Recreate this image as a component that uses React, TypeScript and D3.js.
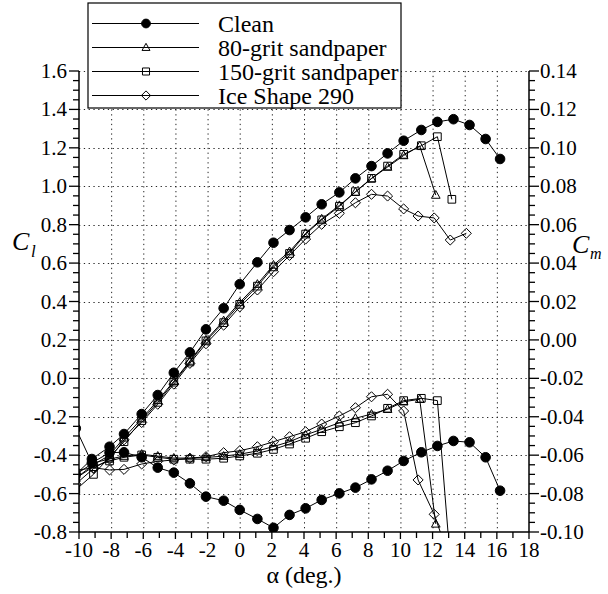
import React from "react";
import * as d3 from "d3";

// ---------------- data ----------------
const cleanAlpha = [-10.2, -9.2, -8.1, -7.2, -6.1, -5.1, -4.1, -3.1, -2.1, -1.0, 0.0, 1.1, 2.1, 3.1, 4.1, 5.1, 6.2, 7.2, 8.2, 9.2, 10.2, 11.3, 12.3, 13.3, 14.3, 15.3, 16.2];
const cleanCl = [-0.50, -0.42, -0.356, -0.29, -0.186, -0.087, 0.029, 0.135, 0.255, 0.365, 0.49, 0.604, 0.706, 0.772, 0.838, 0.906, 0.968, 1.041, 1.105, 1.171, 1.237, 1.293, 1.335, 1.349, 1.319, 1.246, 1.142];
const cleanCm = [-0.046, -0.064, -0.0587, -0.0585, -0.0611, -0.0665, -0.0691, -0.0747, -0.0816, -0.0837, -0.0885, -0.0932, -0.0978, -0.0911, -0.0877, -0.0833, -0.0799, -0.0769, -0.0726, -0.0681, -0.063, -0.0585, -0.0552, -0.0526, -0.0533, -0.0611, -0.0785];

const grit80Alpha = [-10.2, -9.1, -8.1, -7.2, -6.1, -5.1, -4.1, -3.1, -2.1, -1.0, 0.0, 1.1, 2.1, 3.1, 4.1, 5.1, 6.2, 7.2, 8.2, 9.2, 10.2, 11.2, 12.2];
const grit80Cl = [-0.52, -0.45, -0.40, -0.31, -0.21, -0.115, -0.015, 0.09, 0.2, 0.3, 0.395, 0.49, 0.59, 0.66, 0.755, 0.83, 0.9, 0.97, 1.04, 1.10, 1.16, 1.21, 0.954];
const grit80Cm = [-0.07, -0.064, -0.062, -0.0605, -0.0595, -0.0605, -0.0615, -0.0615, -0.0612, -0.0605, -0.0595, -0.0578, -0.0555, -0.053, -0.0495, -0.0465, -0.0431, -0.0408, -0.0386, -0.0361, -0.0322, -0.0309, -0.0958];

const grit150Alpha = [-10.2, -9.1, -8.1, -7.2, -6.1, -5.1, -4.1, -3.1, -2.1, -1.0, 0.0, 1.1, 2.1, 3.1, 4.1, 5.1, 6.2, 7.2, 8.2, 9.2, 10.2, 11.3, 12.3, 13.2];
const grit150Cl = [-0.58, -0.50, -0.41, -0.33, -0.22, -0.125, -0.02, 0.085, 0.195, 0.29, 0.385, 0.48, 0.58, 0.65, 0.751, 0.825, 0.895, 0.972, 1.041, 1.105, 1.166, 1.211, 1.258, 0.932];
const grit150Cm = [-0.072, -0.066, -0.063, -0.0611, -0.0599, -0.0611, -0.0621, -0.0621, -0.0621, -0.0616, -0.0604, -0.059, -0.057, -0.0542, -0.0512, -0.0478, -0.0452, -0.0431, -0.0396, -0.0356, -0.0316, -0.0304, -0.0316, -0.125];

const iceAlpha = [-10.2, -9.1, -8.1, -7.2, -6.1, -5.1, -4.1, -3.1, -2.1, -1.0, 0.0, 1.1, 2.1, 3.1, 4.1, 5.1, 6.2, 7.2, 8.2, 9.2, 10.2, 11.1, 12.1, 13.1, 14.1];
const iceCl = [-0.55, -0.47, -0.42, -0.32, -0.23, -0.135, -0.03, 0.078, 0.18, 0.277, 0.372, 0.46, 0.555, 0.64, 0.725, 0.802, 0.859, 0.914, 0.958, 0.949, 0.882, 0.845, 0.835, 0.72, 0.755];
const iceCm = [-0.068, -0.0665, -0.0677, -0.0674, -0.0646, -0.0632, -0.0625, -0.0616, -0.0608, -0.0587, -0.0577, -0.0556, -0.053, -0.0504, -0.0478, -0.0438, -0.0396, -0.0353, -0.0296, -0.0283, -0.037, -0.0729, -0.0908, -0.115, -0.12];

const seriesNames = ["Clean", "80-grit sandpaper", "150-grit sandpaper", "Ice Shape 290"];
const seriesMarkers = ["circle", "triangle", "square", "diamond"];

const xTickLabels = ["-10", "-8", "-6", "-4", "-2", "0", "2", "4", "6", "8", "10", "12", "14", "16", "18"];
const clTickLabels = ["-0.8", "-0.6", "-0.4", "-0.2", "0.0", "0.2", "0.4", "0.6", "0.8", "1.0", "1.2", "1.4", "1.6"];
const cmTickLabels = ["-0.10", "-0.08", "-0.06", "-0.04", "-0.02", "0.00", "0.02", "0.04", "0.06", "0.08", "0.10", "0.12", "0.14"];

// ---------------- layout ----------------
const W = 608;
const H = 594;
const L = 79, R = 529, T = 71, B = 532;
const FONT = "'Liberation Serif', 'DejaVu Serif', 'Noto Serif', 'FreeSerif', 'Nimbus Roman', 'Liberation Sans', sans-serif";
const TXT = { fontFamily: FONT } as React.CSSProperties;

const x = d3.scaleLinear().domain([-10, 18]).range([L, R]);
const yCl = d3.scaleLinear().domain([-0.8, 1.6]).range([B, T]);
const yCm = d3.scaleLinear().domain([-0.10, 0.14]).range([B, T]);

function markerPath(kind: string, s: number): string {
  if (kind === "circle") {
    const r = s;
    return `M${-r},0A${r},${r} 0 1,0 ${r},0A${r},${r} 0 1,0 ${-r},0Z`;
  }
  if (kind === "square") {
    const h = s * 0.8;
    return `M${-h},${-h}H${h}V${h}H${-h}Z`;
  }
  if (kind === "diamond") {
    const h = s * 1.05;
    return `M0,${-h}L${h},0L0,${h}L${-h},0Z`;
  }
  const h = s * 0.95;
  return `M0,${-h}L${h * 0.95},${h * 0.7}L${-h * 0.95},${h * 0.7}Z`;
}

function Marker({ kind, cx, cy, s }: { kind: string; cx: number; cy: number; s: number }) {
  const filled = kind === "circle";
  return (
    <path
      d={markerPath(kind, s)}
      transform={`translate(${cx},${cy})`}
      fill={filled ? "#000" : "none"}
      stroke="#000"
      strokeWidth={1}
    />
  );
}

export default function App() {
  const series = [
    { alpha: cleanAlpha, cl: cleanCl, cm: cleanCm },
    { alpha: grit80Alpha, cl: grit80Cl, cm: grit80Cm },
    { alpha: grit150Alpha, cl: grit150Cl, cm: grit150Cm },
    { alpha: iceAlpha, cl: iceCl, cm: iceCm },
  ];

  const lineCl = (a: number[], v: number[]) =>
    d3.line<number>().x((_, i) => x(a[i])).y((d) => yCl(d))(v) || "";
  const lineCm = (a: number[], v: number[]) =>
    d3.line<number>().x((_, i) => x(a[i])).y((d) => yCm(d))(v) || "";

  const xTicks = d3.range(-10, 18.001, 1);
  const clTicks = d3.range(0, 49, 1).map((i) => -0.8 + i * 0.05);
  const cmTicks = d3.range(0, 49, 1).map((i) => -0.1 + i * 0.005);
  const xGrid = d3.range(-8, 16.001, 2);
  const yGrid = d3.range(1, 13, 1).map((i) => -0.8 + i * 0.2);

  const legendRowsY = [23.5, 47.5, 71.5, 95.5];

  return (
    <svg
      width={W}
      height={H}
      style={{ position: "absolute", left: 0, top: 0, background: "#fff", fontFamily: FONT }}
    >
      <defs>
        <clipPath id="plotClip">
          <rect x={L} y={T - 1} width={R - L} height={B - T + 1} />
        </clipPath>
      </defs>
      <rect x={0} y={0} width={W} height={H} fill="#fff" />

      {/* grid */}
      <g stroke="#000" strokeWidth={1} strokeDasharray="1.3,3.5" opacity={0.85}>
        {xGrid.map((v) => (
          <line key={"gx" + v} x1={x(v) + 0.5} x2={x(v) + 0.5} y1={T} y2={B} />
        ))}
        {yGrid.map((v, i) => (
          <line key={"gy" + i} x1={L} x2={R} y1={Math.round(yCl(v)) + 0.5} y2={Math.round(yCl(v)) + 0.5} />
        ))}
      </g>

      {/* series */}
      <g clipPath="url(#plotClip)">
        {series.map((s, k) => (
          <g key={"s" + k}>
            <path d={lineCl(s.alpha, s.cl)} fill="none" stroke="#000" strokeWidth={1} />
            <path d={lineCm(s.alpha, s.cm)} fill="none" stroke="#000" strokeWidth={1} />
          </g>
        ))}
        {series.map((s, k) => (
          <g key={"m" + k}>
            {s.alpha.map((a, i) => (
              <Marker key={"mc" + i} kind={seriesMarkers[k]} cx={x(a)} cy={yCl(s.cl[i])} s={4.8} />
            ))}
            {s.alpha.map((a, i) => (
              <Marker key={"mm" + i} kind={seriesMarkers[k]} cx={x(a)} cy={yCm(s.cm[i])} s={4.8} />
            ))}
          </g>
        ))}
      </g>

      {/* axes lines */}
      <g stroke="#000" strokeWidth={1.5} fill="none">
        <line x1={L} x2={L} y1={T} y2={B} />
        <line x1={R} x2={R} y1={T} y2={B} />
        <line x1={L} x2={R} y1={B} y2={B} />
      </g>

      {/* ticks */}
      <g stroke="#000" strokeWidth={1.3}>
        {xTicks.map((v, i) => (
          <line key={"xt" + i} x1={x(v)} x2={x(v)} y1={B} y2={B + (i % 2 === 0 ? 7 : 6)} />
        ))}
        {clTicks.map((v, i) => (
          <line key={"lt" + i} x1={L - (i % 4 === 0 ? 10 : 6)} x2={L} y1={yCl(v)} y2={yCl(v)} />
        ))}
        {cmTicks.map((v, i) => (
          <line key={"rt" + i} x1={R} x2={R + (i % 4 === 0 ? 10 : 6)} y1={yCm(v)} y2={yCm(v)} />
        ))}
      </g>

      {/* tick labels */}
      <g fontSize={21} fill="#000">
        {xTickLabels.map((t) => (
          <text key={"xl" + t} style={TXT} x={x(+t)} y={557} textAnchor="middle">
            {t}
          </text>
        ))}
        {clTickLabels.map((t) => (
          <text key={"cl" + t} style={TXT} x={L - 12} y={yCl(+t) + 7} textAnchor="end">
            {t}
          </text>
        ))}
        {cmTickLabels.map((t) => (
          <text key={"cm" + t} style={TXT} x={R + 11} y={yCm(+t) + 7} textAnchor="start">
            {t}
          </text>
        ))}
      </g>

      {/* axis titles */}
      <text style={TXT} x={(L + R) / 2} y={583} textAnchor="middle" fontSize={24} fill="#000">
        α (deg.)
      </text>
      <text style={TXT} x={12} y={250} fontSize={26} fontStyle="italic" fill="#000">
        C
      </text>
      <text style={TXT} x={31} y={257} fontSize={17} fontStyle="italic" fill="#000">
        l
      </text>
      <text style={TXT} x={572} y={253} fontSize={26} fontStyle="italic" fill="#000">
        C
      </text>
      <text style={TXT} x={590} y={259} fontSize={16} fontStyle="italic" fill="#000">
        m
      </text>

      {/* legend */}
      <g>
        <rect x={88} y={3} width={313} height={105} fill="#fff" stroke="#000" strokeWidth={1.2} />
        {seriesNames.map((n, i) => (
          <g key={"lg" + i}>
            <line x1={92} x2={199} y1={legendRowsY[i]} y2={legendRowsY[i]} stroke="#000" strokeWidth={1.2} />
            <Marker kind={seriesMarkers[i]} cx={146} cy={legendRowsY[i]} s={4.4} />
            <text style={TXT} x={218} y={legendRowsY[i] + 8} fontSize={24} fill="#000">
              {n}
            </text>
          </g>
        ))}
      </g>
    </svg>
  );
}
